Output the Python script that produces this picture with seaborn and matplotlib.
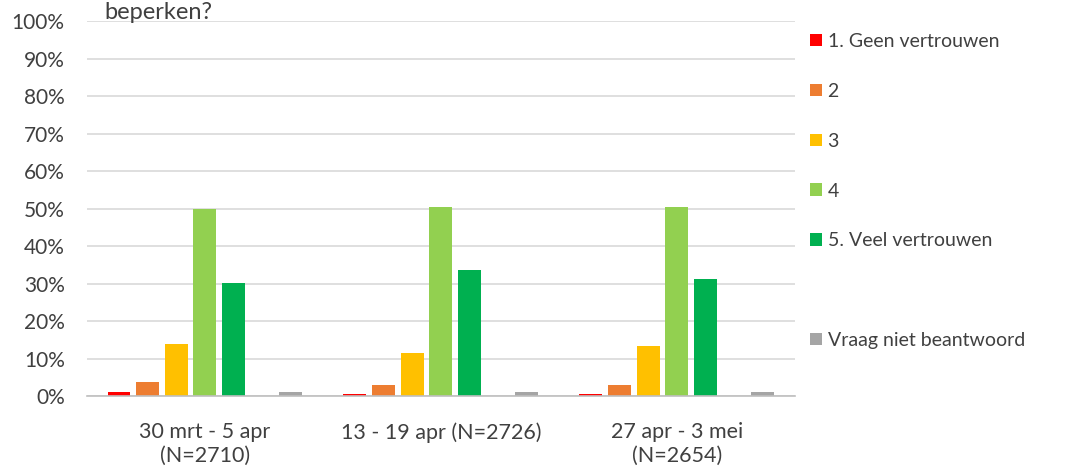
import numpy as np
import pandas as pd
import matplotlib
matplotlib.use("Agg")
import matplotlib.pyplot as plt
from matplotlib.patches import Patch
import seaborn as sns

# Data (aandeel per antwoordcategorie)
perioden = ["30 mrt - 5 apr\n(N=2710)", "13 - 19 apr (N=2726)", "27 apr - 3 mei\n(N=2654)"]
antwoorden = ["1. Geen vertrouwen", "2", "3", "4", "5. Veel vertrouwen", " ", "Vraag niet beantwoord"]
kleuren = ["#FF0000", "#ED7D31", "#FFC000", "#92D050", "#00B050", "#FFFFFF", "#A5A5A5"]

geen_vertrouwen = [0.010, 0.005, 0.006]
score_2 = [0.037, 0.029, 0.029]
score_3 = [0.139, 0.115, 0.134]
score_4 = [0.500, 0.504, 0.504]
veel_vertrouwen = [0.301, 0.336, 0.312]
leeg = [np.nan, np.nan, np.nan]
niet_beantwoord = [0.010, 0.010, 0.011]

reeksen = [geen_vertrouwen, score_2, score_3, score_4, veel_vertrouwen, leeg, niet_beantwoord]
rijen = []
for antw, waarden in zip(antwoorden, reeksen):
    for per, w in zip(perioden, waarden):
        rijen.append({"periode": per, "antwoord": antw, "waarde": w})
df = pd.DataFrame(rijen)

sns.set_style("white")
plt.rcParams["font.family"] = ["Lato", "DejaVu Sans"]

fig = plt.figure(figsize=(10.66, 4.68), dpi=100)
ax = fig.add_axes([0.0816, 0.1538, 0.664, 0.8013])

sns.barplot(data=df, x="periode", y="waarde", hue="antwoord", hue_order=antwoorden,
            order=perioden, palette=dict(zip(antwoorden, kleuren)), width=0.85, gap=0.2,
            saturation=1, linewidth=0, legend=False, ax=ax)

ax.set_ylim(0, 1.0)
ax.set_yticks(np.arange(0, 1.01, 0.1))
ax.set_yticklabels([f"{int(round(v * 100))}%" for v in np.arange(0, 1.01, 0.1)])
ax.yaxis.grid(True, color="#D9D9D9", linewidth=1.2)
ax.set_axisbelow(True)
for s in ["top", "right", "left"]:
    ax.spines[s].set_visible(False)
ax.spines["bottom"].set_color("#BFBFBF")
ax.spines["bottom"].set_linewidth(1.2)
ax.tick_params(axis="y", length=0, pad=16, labelsize=15, labelcolor="#404040")
ax.tick_params(axis="x", length=0, pad=19, labelsize=15.5, labelcolor="#404040")
ax.set_xlabel("")
ax.set_ylabel("")

# legenda
handles = [Patch(facecolor=c, edgecolor="none") for c in kleuren]
handles[5] = Patch(facecolor="none", edgecolor="none")
fig.legend(handles, antwoorden, loc="upper left", bbox_to_anchor=(0.7435, 0.967),
           frameon=False, fontsize=14, labelcolor="#404040", handlelength=0.6,
           handleheight=0.6, handletextpad=0.3, labelspacing=1.69)

fig.text(0.098, 1 - 19 / 468, "beperken?", fontsize=17, color="#404040", va="baseline")

fig.savefig("out.png", dpi=100)
